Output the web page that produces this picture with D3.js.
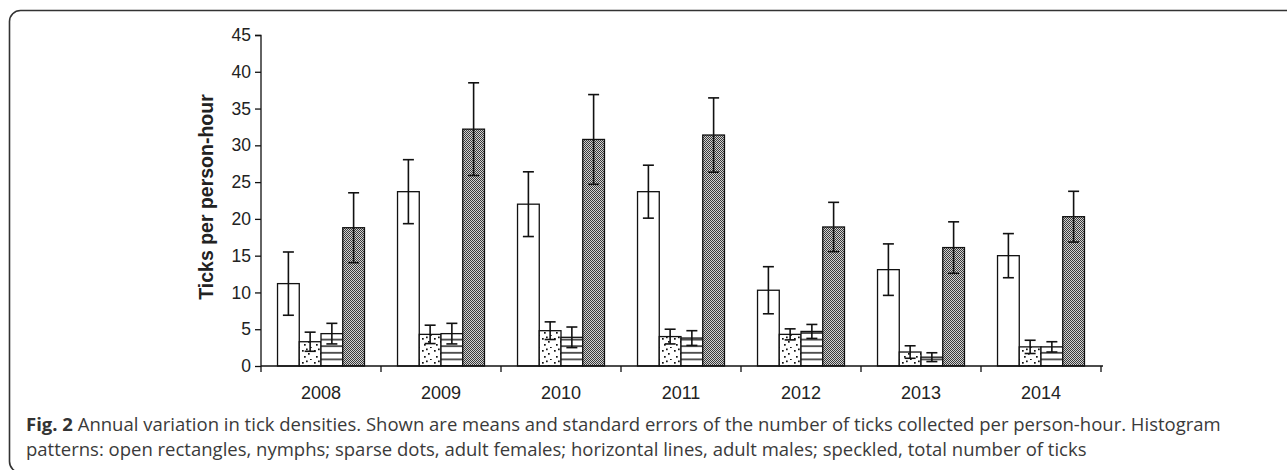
<!DOCTYPE html>
<html><head><meta charset="utf-8">
<script src="https://cdn.jsdelivr.net/npm/d3@7"></script>
<style>
html,body{margin:0;padding:0;background:#fff;}
svg{display:block;}
</style></head>
<body>
<svg id="chart" width="1287" height="470"></svg>
<script>
const years = ['2008','2009','2010','2011','2012','2013','2014'];
const seriesNames = ['nymphs','females','males','total'];
const nymphs   = [11.2, 23.7, 22.0, 23.7, 10.3, 13.1, 15.0];
const nymphsSE = [4.3, 4.35, 4.4, 3.6, 3.2, 3.5, 3.0];
const females   = [3.3, 4.3, 4.8, 4.0, 4.3, 1.9, 2.6];
const femalesSE = [1.3, 1.25, 1.2, 1.0, 0.75, 0.85, 0.9];
const males   = [4.4, 4.4, 3.9, 3.8, 4.7, 1.2, 2.6];
const malesSE = [1.4, 1.4, 1.4, 1.0, 0.95, 0.6, 0.7];
const total   = [18.8, 32.2, 30.8, 31.4, 18.9, 16.1, 20.3];
const totalSE = [4.75, 6.3, 6.1, 5.05, 3.35, 3.5, 3.45];
const yTicks = [0,5,10,15,20,25,30,35,40,45];
const yLabel = 'Ticks per person-hour';
const captionBold = 'Fig. 2';
const captionLine1 = ' Annual variation in tick densities. Shown are means and standard errors of the number of ticks collected per person-hour. Histogram';
const captionLine2 = 'patterns: open rectangles, nymphs; sparse dots, adult females; horizontal lines, adult males; speckled, total number of ticks';

const values = {nymphs, females, males, total};
const errs = {nymphs: nymphsSE, females: femalesSE, males: malesSE, total: totalSE};

const svg = d3.select('#chart');
const defs = svg.append('defs');

// patterns
const pDots = defs.append('pattern').attr('id','dots').attr('patternUnits','userSpaceOnUse')
  .attr('width',12).attr('height',12);
pDots.append('rect').attr('width',12).attr('height',12).attr('fill','#fff');
[[2,2],[8,5],[4,8],[10,11],[6,0.5]].forEach(([cx,cy])=>{
  pDots.append('rect').attr('x',cx).attr('y',cy).attr('width',1.7).attr('height',1.7).attr('fill','#111');
});
const pLines = defs.append('pattern').attr('id','hlines').attr('patternUnits','userSpaceOnUse')
  .attr('width',10).attr('height',6.6).attr('y',366);
pLines.append('rect').attr('width',10).attr('height',6.6).attr('fill','#fff');
pLines.append('rect').attr('y',-0.7).attr('width',10).attr('height',1.4).attr('fill','#111');
pLines.append('rect').attr('y',5.9).attr('width',10).attr('height',1.4).attr('fill','#111');
const pSpeck = defs.append('pattern').attr('id','speck').attr('patternUnits','userSpaceOnUse')
  .attr('width',2).attr('height',2);
pSpeck.append('rect').attr('width',2).attr('height',2).attr('fill','#d2d2d2');
pSpeck.append('rect').attr('x',0).attr('y',0).attr('width',1).attr('height',1).attr('fill','#3a3a3a');
pSpeck.append('rect').attr('x',1).attr('y',1).attr('width',1).attr('height',1).attr('fill','#3a3a3a');

const fills = {nymphs:'#fff', females:'url(#dots)', males:'url(#hlines)', total:'url(#speck)'};

// frame
svg.append('rect').attr('x',9.5).attr('y',10.5).attr('width',1400).attr('height',462).attr('rx',11)
  .attr('fill','none').attr('stroke','#333').attr('stroke-width',1.6);

const x0 = d3.scaleBand().domain(years).range([261,1101]).paddingInner(0).paddingOuter(0);
const x1 = d3.scaleBand().domain(seriesNames).range([0,x0.bandwidth()]).paddingInner(0).paddingOuter(0.76);
const y = d3.scaleLinear().domain([0,45]).range([366,35]);

const g = svg.append('g');
years.forEach((yr,i)=>{
  seriesNames.forEach(s=>{
    const v = values[s][i];
    const bx = x0(yr)+x1(s);
    g.append('rect').attr('x',bx).attr('y',y(v)).attr('width',x1.bandwidth()).attr('height',y(0)-y(v))
      .attr('fill',fills[s]).attr('stroke','#111').attr('stroke-width',1.3);
  });
});
years.forEach((yr,i)=>{
  seriesNames.forEach(s=>{
    const v = values[s][i], e = errs[s][i];
    const cx = x0(yr)+x1(s)+x1.bandwidth()/2;
    const eg = g.append('g').attr('stroke','#111').attr('stroke-width',1.6).attr('fill','none');
    eg.append('line').attr('x1',cx).attr('x2',cx).attr('y1',y(v+e)).attr('y2',y(v-e));
    eg.append('line').attr('x1',cx-5.5).attr('x2',cx+5.5).attr('y1',y(v+e)).attr('y2',y(v+e));
    eg.append('line').attr('x1',cx-5.5).attr('x2',cx+5.5).attr('y1',y(v-e)).attr('y2',y(v-e));
  });
});

// y axis
const yAxis = svg.append('g').attr('transform','translate(261,0)')
  .call(d3.axisLeft(y).tickValues(yTicks).tickSize(6).tickPadding(4));
yAxis.select('.domain').attr('stroke','#111').attr('stroke-width',1.3).attr('d','M-6,35.5H0V366');
yAxis.selectAll('.tick line').attr('stroke','#111').attr('stroke-width',1.3);
yAxis.selectAll('.tick text').attr('font-family','Liberation Sans, Arial, sans-serif').attr('font-size',17.5).attr('fill','#222');

// x axis
const xAxis = svg.append('g').attr('transform','translate(0,366)')
  .call(d3.axisBottom(x0).tickSize(0).tickPadding(20));
xAxis.select('.domain').attr('stroke','#111').attr('stroke-width',1.3).attr('d','M261,0H1103');
xAxis.selectAll('.tick text').attr('font-family','Liberation Sans, Arial, sans-serif').attr('font-size',18).attr('fill','#222');
const bounds = years.map(yr=>x0(yr)).concat([x0(years[years.length-1])+x0.bandwidth()]);
xAxis.selectAll('line.bt').data(bounds).enter().append('line').attr('class','bt')
  .attr('x1',d=>d).attr('x2',d=>d).attr('y1',0).attr('y2',6).attr('stroke','#111').attr('stroke-width',1.3);

// y label
svg.append('text').attr('transform','translate(213,197) rotate(-90)').attr('text-anchor','middle')
  .attr('font-family','Liberation Sans, Arial, sans-serif').attr('font-weight','bold').attr('font-size',19.5)
  .attr('fill','#222').text(yLabel);

// caption
const cap = svg.append('text').attr('x',26).attr('y',431).attr('font-family','Open Sans, sans-serif')
  .attr('font-size',18.5).attr('fill','#3a3a3a');
cap.append('tspan').attr('font-weight','bold').attr('fill','#333').text(captionBold);
cap.append('tspan').text(captionLine1);
svg.append('text').attr('x',26).attr('y',456).attr('font-family','Open Sans, sans-serif')
  .attr('font-size',18.5).attr('fill','#3a3a3a').text(captionLine2);
</script>
</body></html>
